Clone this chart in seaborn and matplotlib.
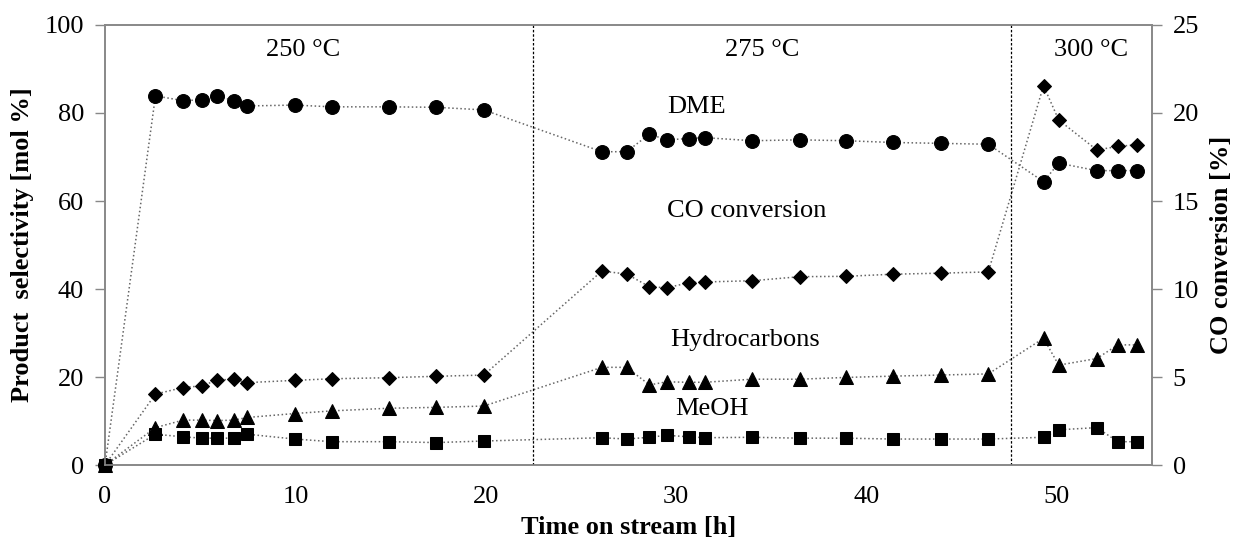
import matplotlib
matplotlib.use("Agg")
import matplotlib.pyplot as plt
import seaborn as sns
import pandas as pd

# ---- data ----
time_h = [0, 2.65, 4.1, 5.1, 5.9, 6.77, 7.47, 9.97, 11.92, 14.9, 17.4, 19.9,
          26.1, 27.4, 28.6, 29.5, 30.7, 31.5, 34.0, 36.5, 38.9, 41.4, 43.9, 46.4,
          49.3, 50.1, 52.1, 53.2, 54.2]
dme = [0, 83.9, 82.8, 83.0, 83.9, 82.8, 81.6, 81.8, 81.4, 81.4, 81.3, 80.7,
       71.2, 71.2, 75.2, 73.9, 74.2, 74.4, 73.7, 73.9, 73.7, 73.3, 73.1, 72.9,
       64.4, 68.6, 66.9, 66.9, 66.9]
co_conversion = [0, 4.03, 4.4, 4.5, 4.83, 4.87, 4.68, 4.81, 4.9, 4.96, 5.04, 5.11,
                 11.02, 10.85, 10.13, 10.07, 10.36, 10.4, 10.47, 10.7, 10.72, 10.84, 10.9, 10.97,
                 21.55, 19.6, 17.9, 18.1, 18.2]
hydrocarbons = [0, 8.5, 10.2, 10.2, 10.1, 10.2, 10.8, 11.7, 12.3, 12.9, 13.1, 13.4,
                22.2, 22.2, 18.2, 18.9, 18.8, 18.8, 19.5, 19.5, 19.9, 20.2, 20.45, 20.7,
                28.8, 22.7, 24.2, 27.3, 27.3]
meoh = [0, 7.0, 6.4, 6.1, 6.1, 6.1, 7.0, 5.9, 5.3, 5.3, 5.1, 5.45,
        6.2, 5.9, 6.3, 6.75, 6.4, 6.2, 6.3, 6.1, 6.1, 5.9, 5.9, 5.9,
        6.3, 8.0, 8.5, 5.3, 5.3]
temp_changes = [22.5, 47.6]
temp_labels = ["250 °C", "275 °C", "300 °C"]
temp_label_x = [10.4, 34.5, 51.8]
series_labels = ["DME", "CO conversion", "Hydrocarbons", "MeOH"]
series_label_pos = [(31.05, 81.3), (33.7, 57.7), (33.6, 28.3), (31.9, 12.7)]

df = pd.DataFrame({"t": time_h, "dme": dme, "co": co_conversion,
                   "hc": hydrocarbons, "meoh": meoh})

sns.set_style("white")
plt.rcParams["font.family"] = ["Liberation Serif", "DejaVu Serif"]
plt.rcParams["text.color"] = "black"
plt.rcParams["axes.labelcolor"] = "black"
plt.rcParams["xtick.color"] = "black"
plt.rcParams["ytick.color"] = "black"

fig = plt.figure(figsize=(12.37, 5.47), dpi=100)
ax = fig.add_axes([0.0849, 0.1499, 0.8464, 0.8044])
ax2 = ax.twinx()
ax.set_zorder(ax2.get_zorder() + 1)
ax.patch.set_visible(False)

line_kw = dict(color="#666666", linestyle=":", linewidth=1.1,
               markerfacecolor="black", markeredgecolor="black", clip_on=False)

sns.lineplot(data=df, x="t", y="co", ax=ax2, marker="D", markersize=7.5, **line_kw)
sns.lineplot(data=df, x="t", y="meoh", ax=ax, marker="s", markersize=8, **line_kw)
sns.lineplot(data=df, x="t", y="hc", ax=ax, marker="^", markersize=10, **line_kw)
sns.lineplot(data=df, x="t", y="dme", ax=ax, marker="o", markersize=10, **line_kw)

for xv in temp_changes:
    ax.axvline(xv, color="black", linestyle=(0, (2, 1.5)), linewidth=0.9)

ax.set_xlim(0, 55)
ax.set_ylim(0, 100)
ax2.set_ylim(0, 25)
ax.set_xticks(range(0, 51, 10))
ax.set_yticks(range(0, 101, 20))
ax2.set_yticks(range(0, 26, 5))

fs = 19
for t, xv in zip(temp_labels, temp_label_x):
    ax.text(xv, 94.3, t, ha="center", va="center", fontsize=fs, color="black")
for t, (xv, yv) in zip(series_labels, series_label_pos):
    ax.text(xv, yv, t, ha="center", va="center", fontsize=fs, color="black")

ax.set_xlabel("Time on stream [h]", fontsize=fs, fontweight="bold", labelpad=6)
ax.set_ylabel("Product  selectivity [mol %]", fontsize=fs, fontweight="bold", labelpad=8)
ax2.set_ylabel("CO conversion [%]", fontsize=fs, fontweight="bold", labelpad=8)

for a in (ax, ax2):
    a.tick_params(axis="both", which="both", direction="out", length=7, width=1,
                  color="#888888", labelcolor="black", labelsize=fs, pad=8)
    for s in a.spines.values():
        s.set_color("#888888")
        s.set_linewidth(1.2)
ax2.grid(False)
ax.grid(False)

fig.savefig("out.png", dpi=100)
